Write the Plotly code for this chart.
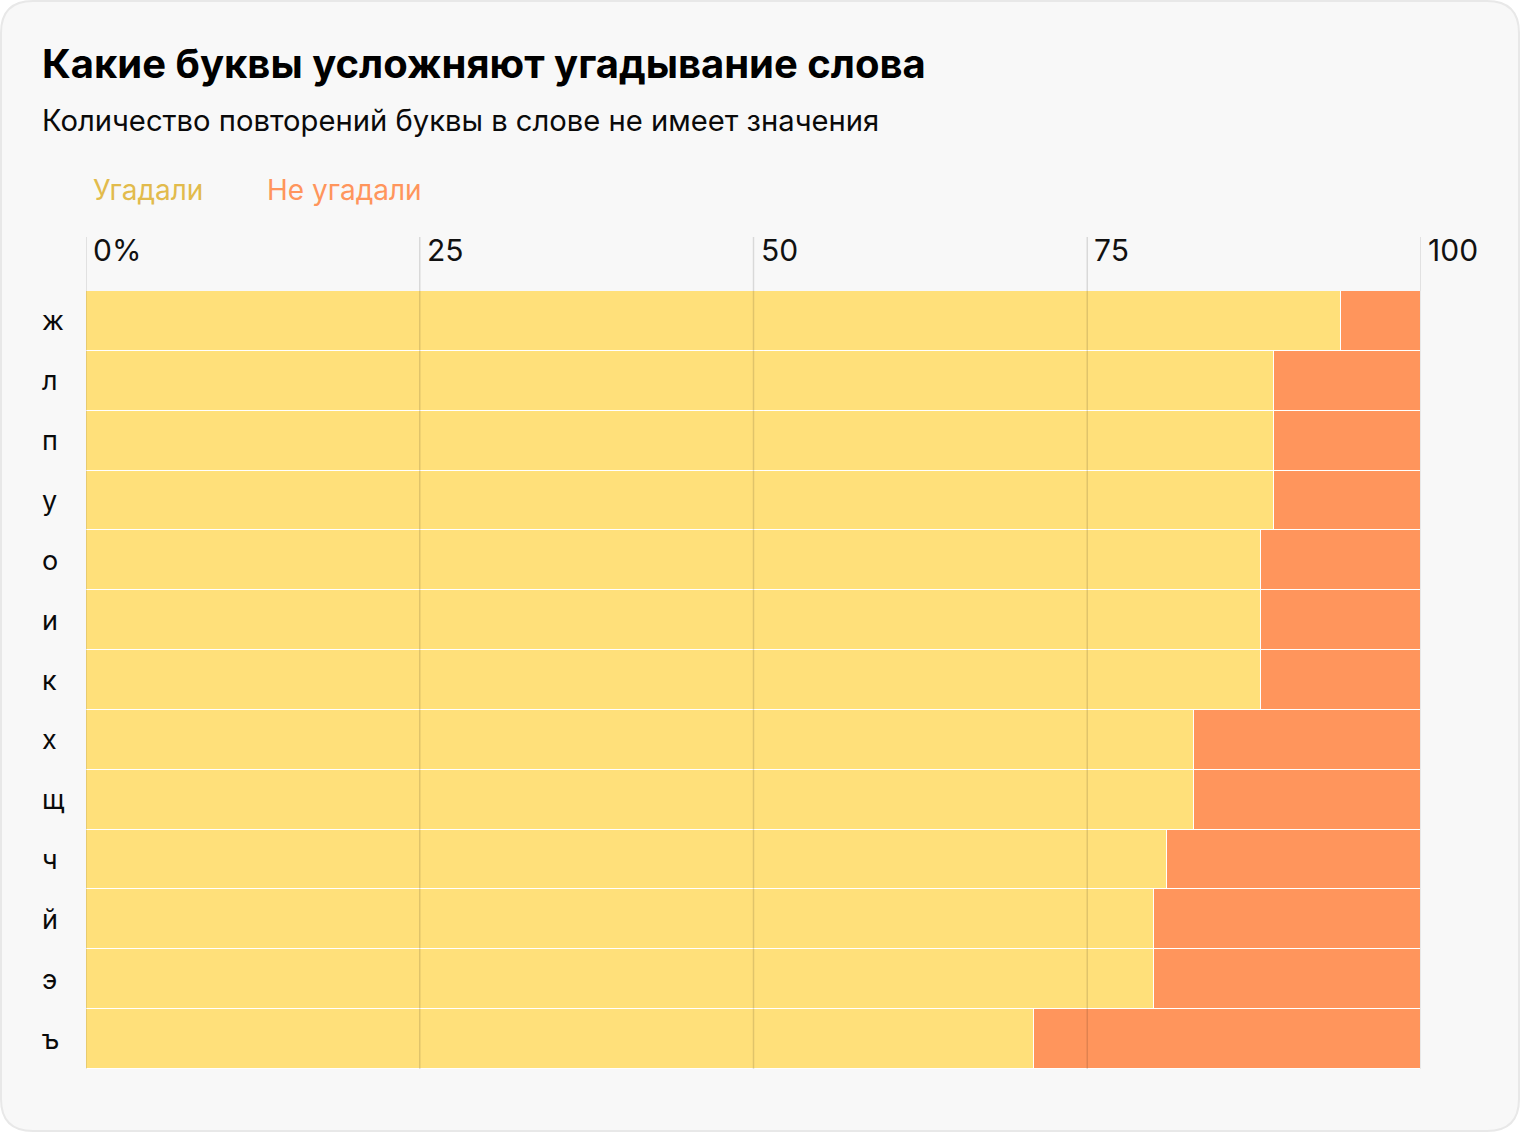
import plotly.graph_objects as go

letters = ["ж", "л", "п", "у", "о", "и", "к", "х", "щ", "ч", "й", "э", "ъ"]
guessed = [94, 89, 89, 89, 88, 88, 88, 83, 83, 81, 80, 80, 71]
not_guessed = [100 - g for g in guessed]
tick_vals = [0, 25, 50, 75, 100]
tick_text = ["0%", "25", "50", "75", "100"]

W, H = 1520, 1132
L, R, T, B = 86, 1421, 291, 1069
pw, ph = R - L, B - T

def px(x):
    return (x - L) / pw

def py(y):
    return (B - y) / ph

YELLOW = "#ffe07a"
ORANGE = "#ff955c"
FONT = "Inter"

fig = go.Figure()
fig.add_trace(go.Bar(y=letters, x=guessed, orientation="h", name="Угадали",
                     marker=dict(color=YELLOW, line=dict(color="#ffffff", width=1.2))))
fig.add_trace(go.Bar(y=letters, x=not_guessed, orientation="h", name="Не угадали",
                     marker=dict(color=ORANGE, line=dict(color="#ffffff", width=1.2))))

shapes = []
# rounded card
x0, y0, x1, y1, r = 1, 1, 1519, 1131, 32
path = (f"M {px(x0+r)},{py(y0)} L {px(x1-r)},{py(y0)} Q {px(x1)},{py(y0)} {px(x1)},{py(y0+r)} "
        f"L {px(x1)},{py(y1-r)} Q {px(x1)},{py(y1)} {px(x1-r)},{py(y1)} "
        f"L {px(x0+r)},{py(y1)} Q {px(x0)},{py(y1)} {px(x0)},{py(y1-r)} "
        f"L {px(x0)},{py(y0+r)} Q {px(x0)},{py(y0)} {px(x0+r)},{py(y0)} Z")
shapes.append(dict(type="path", path=path, xref="paper", yref="paper", layer="below",
                   fillcolor="#f8f8f8", line=dict(color="#e8e8e8", width=2)))
for v in tick_vals:
    shapes.append(dict(type="line", xref="x", yref="paper", x0=v, x1=v, y0=0, y1=py(237),
                       layer="above", line=dict(color="rgba(0,0,0,0.12)", width=1.5)))

annotations = []
annotations.append(dict(text="<b>Какие буквы усложняют угадывание слова</b>", xref="paper", yref="paper",
                        x=px(40), y=py(64), xanchor="left", yanchor="middle", showarrow=False,
                        font=dict(family=FONT, size=40, color="#000000")))
annotations.append(dict(text="Количество повторений буквы в слове не имеет значения", xref="paper", yref="paper",
                        x=px(40), y=py(120), xanchor="left", yanchor="middle", showarrow=False,
                        font=dict(family=FONT, size=29.2, color="#0a0a0a")))
annotations.append(dict(text="Угадали", xref="paper", yref="paper",
                        x=px(91), y=py(190), xanchor="left", yanchor="middle", showarrow=False,
                        font=dict(family=FONT, size=28, color="#e2bb4c")))
annotations.append(dict(text="Не угадали", xref="paper", yref="paper",
                        x=px(265), y=py(190), xanchor="left", yanchor="middle", showarrow=False,
                        font=dict(family=FONT, size=28, color="#ff955c")))
for v, t in zip(tick_vals, tick_text):
    annotations.append(dict(text=t, xref="x", yref="paper", x=v, y=py(250), xshift=5,
                            xanchor="left", yanchor="middle", showarrow=False,
                            font=dict(family=FONT, size=30, color="#111111")))
for c in letters:
    annotations.append(dict(text=c, xref="paper", yref="y", x=px(40), y=c,
                            xanchor="left", yanchor="middle", showarrow=False,
                            font=dict(family=FONT, size=27, color="#0a0a0a")))

fig.update_layout(
    width=W, height=H,
    margin=dict(l=L, r=W - R, t=T, b=H - B, pad=0),
    paper_bgcolor="#ffffff", plot_bgcolor="rgba(0,0,0,0)",
    barmode="stack", bargap=0, showlegend=False,
    xaxis=dict(range=[0, 100], showgrid=False, zeroline=False, showticklabels=False, fixedrange=True),
    yaxis=dict(categoryorder="array", categoryarray=letters, autorange="reversed",
               showgrid=False, showticklabels=False, zeroline=False, fixedrange=True),
    shapes=shapes, annotations=annotations,
    font=dict(family=FONT),
)
fig.write_html("out.html", config={"displayModeBar": False},
               post_script="document.body.style.margin='0';document.body.style.overflow='hidden';")
